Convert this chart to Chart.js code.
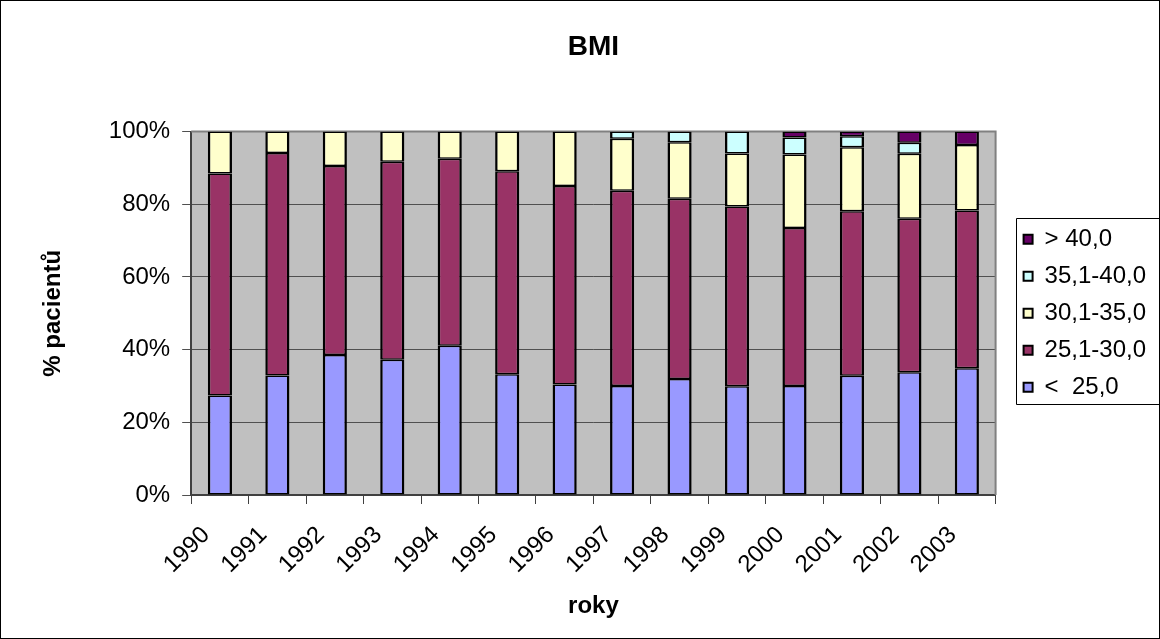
<!DOCTYPE html>
<html>
<head>
<meta charset="utf-8">
<title>BMI</title>
<script src="https://cdn.jsdelivr.net/npm/chart.js@4.4.1/dist/chart.umd.min.js"></script>
<style>
  html, body { margin: 0; padding: 0; background: #fff; }
  canvas { display: block; }
</style>
</head>
<body>
<canvas id="chart" width="1160" height="639"></canvas>
<script>
const years = ["1990", "1991", "1992", "1993", "1994", "1995", "1996", "1997", "1998", "1999", "2000", "2001", "2002", "2003"];

// podíl pacientů v %
const under25 = [27.4, 32.9, 38.5, 37.2, 41.1, 33.2, 30.4, 30.0, 31.9, 29.9, 30.0, 32.8, 33.8, 34.9];
const bmi25to30 = [61.1, 61.2, 52.0, 54.5, 51.4, 55.9, 54.6, 53.7, 49.6, 49.5, 43.5, 45.3, 42.2, 43.4];
const bmi30to35 = [11.5, 5.9, 9.5, 8.3, 7.5, 10.9, 15.0, 14.3, 15.6, 14.6, 20.2, 17.6, 17.9, 18.0];
const bmi35to40 = [0, 0, 0, 0, 0, 0, 0, 2.0, 2.9, 6.0, 4.7, 3.0, 3.0, 0];
const over40 = [0, 0, 0, 0, 0, 0, 0, 0, 0, 0, 1.6, 1.3, 3.1, 3.7];

const yTicks = [0, 20, 40, 60, 80, 100];

Chart.defaults.font.family = '"Liberation Sans", Arial, sans-serif';
Chart.defaults.font.size = 24;
Chart.defaults.color = "#000";

// šedé pozadí plochy grafu, rámečky
const frame = {
  id: "frame",
  beforeDraw(chart) {
    const { ctx, chartArea: a } = chart;
    ctx.save();
    ctx.fillStyle = "#fff";
    ctx.fillRect(0, 0, chart.width, chart.height);
    ctx.fillStyle = "#c0c0c0";
    ctx.fillRect(a.left, a.top, a.right - a.left, a.bottom - a.top);
    ctx.restore();
  },
  beforeDatasetsDraw(chart) {
    const { ctx, chartArea: a } = chart;
    ctx.save();
    ctx.strokeStyle = "#808080";
    ctx.lineWidth = 2;
    ctx.beginPath();
    ctx.moveTo(a.left, a.top);
    ctx.lineTo(a.right, a.top);
    ctx.lineTo(a.right, a.bottom);
    ctx.stroke();
    ctx.restore();
  },
  afterDraw(chart) {
    const ctx = chart.ctx;
    ctx.save();
    ctx.strokeStyle = "#000";
    ctx.lineWidth = 1;
    ctx.strokeRect(0.5, 0.5, chart.width - 1, chart.height - 1);

    const hb = chart.legend.legendHitBoxes;
    if (hb && hb.length) {
      const first = hb[0];
      const last = hb[hb.length - 1];
      const x0 = Math.round(first.left - 8) + 0.5;
      const y0 = Math.round(first.top - 9) + 0.5;
      const y1 = Math.round(last.top + last.height + 5) + 0.5;
      ctx.beginPath();
      ctx.moveTo(chart.width + 2, y0);
      ctx.lineTo(x0, y0);
      ctx.lineTo(x0, y1);
      ctx.lineTo(chart.width + 2, y1);
      ctx.stroke();
    }
    ctx.restore();
  }
};

// legenda o kus dál od plochy grafu
const legendShift = {
  id: "legendShift",
  afterLayout(chart) {
    chart.legend.left += 15;
    chart.legend.right += 15;
  }
};

function makeSet(label, data, color) {
  return {
    label,
    data,
    backgroundColor: color,
    borderColor: "#000",
    borderWidth: { top: 1.5, bottom: 1.5, left: 2.5, right: 2.5 },
    borderSkipped: false,
    barPercentage: 0.42,
    categoryPercentage: 1
  };
}

const ctx = document.getElementById("chart").getContext("2d");

new Chart(ctx, {
  type: "bar",
  data: {
    labels: years,
    datasets: [
      makeSet("<  25,0", under25, "#9999ff"),
      makeSet("25,1-30,0", bmi25to30, "#993366"),
      makeSet("30,1-35,0", bmi30to35, "#ffffcc"),
      makeSet("35,1-40,0", bmi35to40, "#ccffff"),
      makeSet("> 40,0", over40, "#660066")
    ]
  },
  plugins: [frame, legendShift],
  options: {
    responsive: false,
    animation: false,
    layout: { padding: { left: 0, right: 19, top: 0, bottom: 0 } },
    plugins: {
      title: {
        display: true,
        fullSize: false,
        text: "BMI",
        font: { size: 28, weight: "bold" },
        padding: { top: 30, bottom: 68 }
      },
      legend: {
        position: "right",
        fullSize: false,
        reverse: true,
        labels: {
          boxWidth: 9,
          boxHeight: 9,
          padding: 13,
          font: { size: 24 }
        }
      },
      tooltip: { enabled: false }
    },
    scales: {
      x: {
        stacked: true,
        afterFit(scale) {
          scale.height = 144;
        },
        grid: {
          offset: true,
          drawOnChartArea: false,
          drawTicks: true,
          tickLength: 9,
          color: "#404040"
        },
        border: { display: true, color: "#404040", width: 2 },
        ticks: {
          minRotation: 45,
          maxRotation: 45,
          autoSkip: false,
          padding: 17,
          labelOffset: -14,
          font: { size: 24 }
        },
        title: {
          display: true,
          text: "roky",
          font: { size: 24, weight: "bold" },
          padding: { top: 8, bottom: 18 }
        }
      },
      y: {
        stacked: true,
        min: 0,
        max: 100,
        afterBuildTicks(scale) {
          scale.ticks = yTicks.map(v => ({ value: v }));
        },
        grid: {
          color: "#505050",
          lineWidth: 1,
          tickLength: 9
        },
        border: { display: true, color: "#404040", width: 2 },
        ticks: {
          padding: 12,
          font: { size: 24 },
          callback: v => v + "%"
        },
        title: {
          display: true,
          text: "% pacientů",
          font: { size: 24, weight: "bold" },
          padding: { top: 39, bottom: 29 }
        }
      }
    }
  }
});
</script>
</body>
</html>
